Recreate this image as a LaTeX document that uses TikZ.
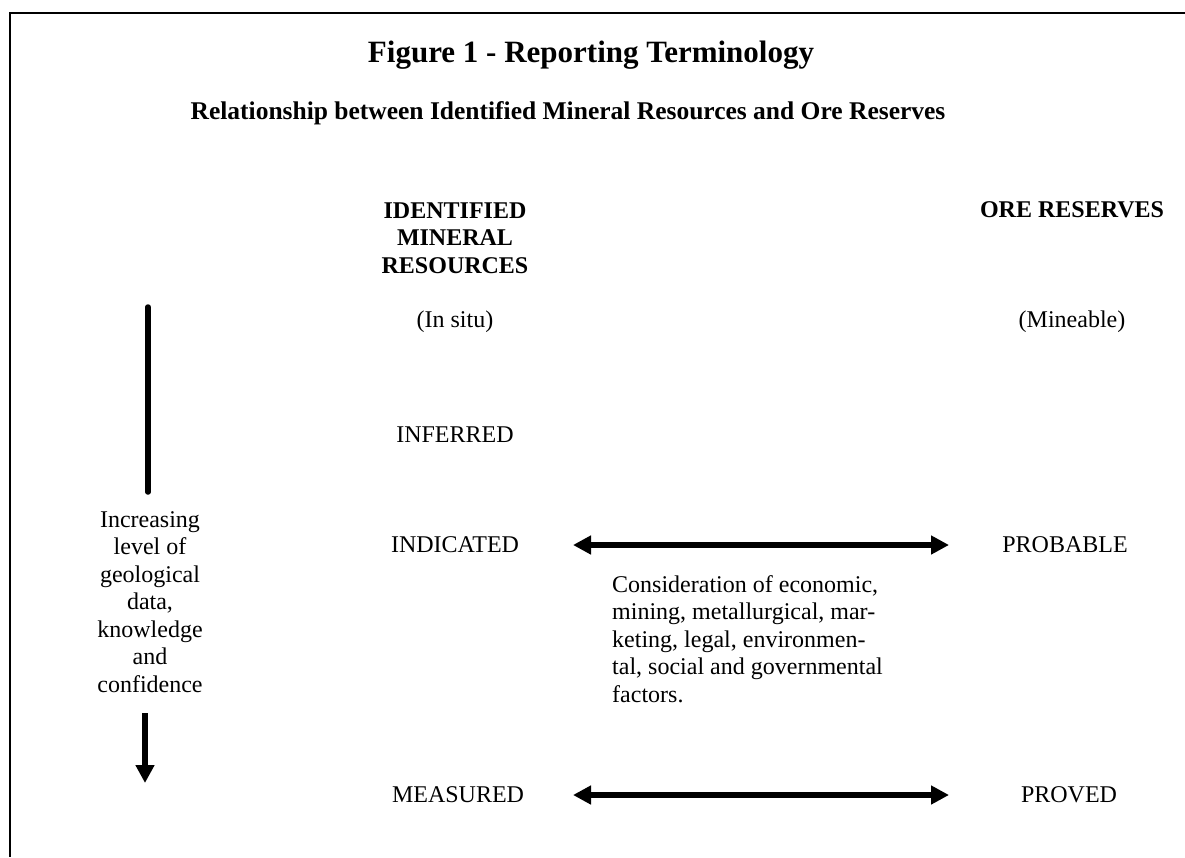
\documentclass[tikz,border=0pt]{standalone}
\usepackage{fontspec}
\setmainfont{Liberation Serif}
\usetikzlibrary{arrows.meta}
\tikzset{
  lbl/.style={inner sep=0pt, align=center, font=\fontsize{24}{27.5}\selectfont},
  hdr/.style={inner sep=0pt, align=center, font=\bfseries\fontsize{24}{27.5}\selectfont},
  fat/.style={line width=6pt},
  duo/.style={fat, {Triangle[width=18pt,length=18pt]}-{Triangle[width=18pt,length=18pt]}},
}

\begin{document}
\begin{tikzpicture}[x=1pt,y=-1pt]
\useasboundingbox (0,0) rectangle (1185,857);
% frame (top and left side only)
\draw[line width=2pt] (1185,13) -- (10,13) -- (10,857);

\node[hdr, font=\bfseries\fontsize{31}{35}\selectfont] (title) at (591,55) {Figure 1 - Reporting Terminology};
\node[hdr, font=\bfseries\fontsize{25.5}{29}\selectfont] (sub) at (568,113) {Relationship between Identified Mineral Resources and Ore Reserves};

\node[hdr] (imr) at (455,238) {IDENTIFIED\\MINERAL\\RESOURCES};
\node[hdr] (ore) at (1072,210) {ORE RESERVES};
\node[lbl] (situ) at (455,322) {(In situ)};
\node[lbl] (mine) at (1072,322) {(Mineable)};

\node[lbl] (inf) at (455,435) {INFERRED};
\node[lbl] (ind) at (455,545) {INDICATED};
\node[lbl] (prob) at (1065,545) {PROBABLE};
\node[lbl] (meas) at (458,795) {MEASURED};
\node[lbl] (prov) at (1069,795) {PROVED};

\node[lbl, align=left, anchor=north west] (cons) at (612,575)
  {Consideration of economic,\\mining, metallurgical, mar-\\keting, legal, environmen-\\tal, social and governmental\\factors.};

\node[lbl] (incr) at (150,602) {Increasing\\level of\\geological\\data,\\knowledge\\and\\confidence};

\coordinate (indL) at (573,545);
\coordinate (indR) at (949,545);
\coordinate (meaL) at (573,795);
\coordinate (meaR) at (949,795);
\coordinate (barT) at (148,307);
\coordinate (barB) at (148,492);
\coordinate (dnT) at (145,713);
\coordinate (dnB) at (145,783);

\draw[duo] (indL) -- (indR);
\draw[duo] (meaL) -- (meaR);
\draw[fat, line width=5.5pt, line cap=round] (barT) -- (barB);
\draw[fat, -{Triangle[width=18pt,length=18pt]}] (dnT) -- (dnB);
\end{tikzpicture}
\end{document}
